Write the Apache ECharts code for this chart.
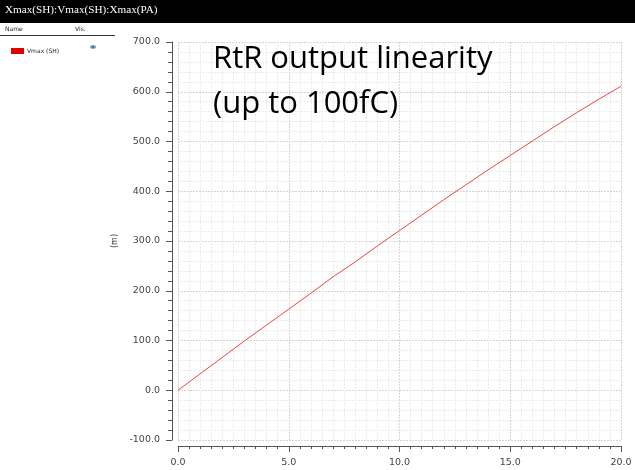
<!DOCTYPE html>
<html>
<head>
<meta charset="utf-8">
<script src="https://cdn.jsdelivr.net/npm/echarts@6/dist/echarts.min.js"></script>
<style>
  html, body { margin: 0; padding: 0; background: #fff; }
  #chart { width: 635px; height: 470px; }
</style>
</head>
<body>
<div id="chart"></div>
<script>
// Sweep input (x) and measured Vmax(SH) output
const xValues = [0, 1, 2, 3, 4, 5, 6, 7, 8, 9, 10, 11, 12, 13, 14, 15, 16, 17, 18, 19, 20];
const vmaxSH  = [0, 33, 66, 99, 131, 163, 195, 228, 258, 290, 321, 352, 383, 413, 443, 472, 501, 530, 558, 585, 611];

const windowTitle = 'Xmax(SH):Vmax(SH):Xmax(PA)';
const seriesName = 'Vmax (SH)';
const noteLines = ['RtR output linearity', '(up to 100fC)'];
const yAxisName = '(m)';

const points = xValues.map((x, i) => [x, vmaxSH[i]]);

const chart = echarts.init(document.getElementById('chart'), null, { renderer: 'canvas' });

const tickFont = { fontFamily: 'DejaVu Sans', fontSize: 9.5, color: '#444' };
const axisLineStyle = { color: '#555', width: 1 };
const gridMajor = { color: '#d6d6d6', width: 1, type: [2, 1] };
const gridMinor = { color: '#ececec', width: 1, type: [2, 1] };

chart.setOption({
  animation: false,
  backgroundColor: '#fff',
  grid: { left: 178, right: 14, top: 42, bottom: 30, containLabel: false },
  legend: {
    left: 6, top: 43,
    itemWidth: 13, itemHeight: 6, itemGap: 4,
    icon: 'rect',
    textStyle: { fontFamily: 'DejaVu Sans', fontSize: 6, color: '#222', padding: [0, 0, 0, -2] },
    data: [seriesName]
  },
  xAxis: {
    type: 'value',
    min: 0, max: 20, interval: 5,
    offset: 6,
    axisLine: { show: true, onZero: false, lineStyle: axisLineStyle },
    axisTick: { show: true, length: 6, lineStyle: axisLineStyle },
    minorTick: { show: true, splitNumber: 10, length: 3, lineStyle: axisLineStyle },
    axisLabel: Object.assign({ margin: 12, formatter: v => v.toFixed(1) }, tickFont),
    splitLine: { show: true, lineStyle: gridMajor },
    minorSplitLine: { show: true, lineStyle: gridMinor }
  },
  yAxis: {
    type: 'value',
    min: -100, max: 700, interval: 100,
    offset: 6,
    name: yAxisName,
    nameLocation: 'middle',
    nameGap: 48,
    nameTextStyle: { fontFamily: 'DejaVu Sans', fontSize: 8, color: '#333' },
    axisLine: { show: true, onZero: false, lineStyle: axisLineStyle },
    axisTick: { show: true, length: 6, lineStyle: axisLineStyle },
    minorTick: { show: true, splitNumber: 5, length: 4, lineStyle: axisLineStyle },
    axisLabel: Object.assign({ margin: 12, formatter: v => v.toFixed(1) }, tickFont),
    splitLine: { show: true, lineStyle: gridMajor },
    minorSplitLine: { show: true, lineStyle: gridMinor }
  },
  series: [{
    name: seriesName,
    type: 'line',
    data: points,
    showSymbol: false,
    symbol: 'none',
    color: '#e00000',
    lineStyle: { color: '#ee4444', width: 1 }
  }],
  graphic: [
    // title bar
    { type: 'rect', left: 0, top: 0, shape: { width: 635, height: 23 }, style: { fill: '#000' }, z: 10 },
    { type: 'text', left: 5, top: 5, style: { text: windowTitle, fill: '#fff', font: '11.2px "Liberation Serif"' }, z: 11 },
    // legend header
    { type: 'text', left: 5, top: 26, style: { text: 'Name', fill: '#222', font: '6px "DejaVu Sans"' } },
    { type: 'text', left: 75, top: 26, style: { text: 'Vis.', fill: '#222', font: '6px "DejaVu Sans"' } },
    { type: 'line', shape: { x1: 0, y1: 35.5, x2: 115, y2: 35.5 }, style: { stroke: '#333', lineWidth: 1 } },
    // visibility marker
    { type: 'ellipse', shape: { cx: 93, cy: 47, rx: 3, ry: 2 }, style: { fill: '#7a9ccf' } },
    { type: 'circle', shape: { cx: 93, cy: 47, r: 1 }, style: { fill: '#3a5c9f' } },
    // annotation
    { type: 'text', left: 213, top: 37, style: { text: noteLines.join('\n'), fill: '#000', font: '31px "Open Sans"', lineHeight: 45 }, z: 12 }
  ]
});
</script>
</body>
</html>
